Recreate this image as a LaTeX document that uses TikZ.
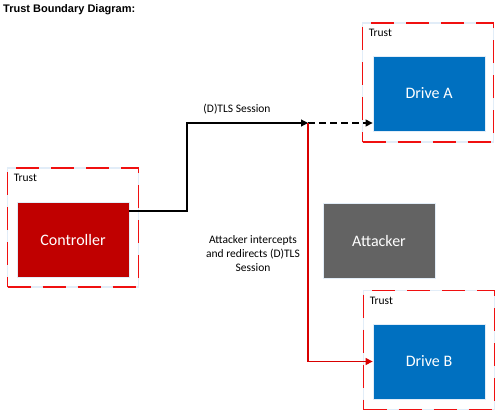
\documentclass[tikz,border=0pt]{standalone}
\usepackage{fontspec}
\setmainfont{Carlito}
\newfontfamily\titlefont{Liberation Sans}
\usetikzlibrary{positioning,calc,arrows.meta}

\definecolor{ctrlred}{HTML}{C00000}
\definecolor{driveblue}{HTML}{0070C0}
\definecolor{attgray}{HTML}{636363}
\definecolor{edgeblue}{HTML}{E2EDF8}
\definecolor{trustred}{HTML}{F01010}

\begin{document}
\begin{tikzpicture}[
    x=1pt, y=-1pt,
    trustbox/.style={rectangle, minimum width=131pt, minimum height=119pt,
      draw=trustred, line width=1.8pt, dash pattern=on 23pt off 12pt,
      preaction={draw=edgeblue, solid, line width=1.6pt}},
    devbox/.style={rectangle, minimum width=112pt, minimum height=75pt,
      draw=edgeblue, line width=0.8pt, text=white, font=\fontsize{16}{18}\selectfont},
    trusttext/.style={font=\fontsize{11.5}{13}\selectfont, inner sep=1pt},
    conn/.style={line width=1.1pt, -{Triangle[length=7pt,width=7pt]}}, % arrow into node
    note/.style={font=\fontsize{11.5}{14}\selectfont, align=center}
]
\useasboundingbox (0,0) rectangle (500,415);

% Title
\node[anchor=west, inner sep=0pt, font=\titlefont\bfseries\fontsize{11}{13}\selectfont] (title) at (3,10) {Trust Boundary Diagram:};

% Trust boundaries
\node[trustbox] (trustC) at (73,227.5) {};
\node[trustbox] (trustA) at (428,82.5) {};
\node[trustbox] (trustB) at (429,350) {};
\node[trusttext, below right=6pt and 6pt of trustC.north west] (trustCtxt) {Trust};
\node[trusttext, below right=6pt and 6pt of trustA.north west] (trustAtxt) {Trust};
\node[trusttext, below right=6pt and 6pt of trustB.north west] (trustBtxt) {Trust};

% Devices
\node[devbox, fill=ctrlred] (ctrl) at (73,239.5) {Controller};
\node[devbox, fill=driveblue] (driveA) at (429,93.5) {Drive A};
\node[devbox, fill=driveblue] (driveB) at (429,361.5) {Drive B};
\node[devbox, fill=attgray] (attacker) at (379,240.5) {Attacker};

% Session paths
\coordinate (ctrlout) at (129,211);
\coordinate (split) at (308,123);
\draw[conn] (ctrlout) -- ++(58,0) |- (split);
\draw[conn, dash pattern=on 7pt off 4pt] (split) -- (driveA.west |- split);
\draw[conn, red!85!black] (split) |- (driveB.west);

% Labels
\node[note] (tlslabel) at (237,109) {(D)TLS Session};
\node[note] (attnote) at (253,254) {Attacker intercepts\\and redirects (D)TLS\\Session};

\end{tikzpicture}
\end{document}
